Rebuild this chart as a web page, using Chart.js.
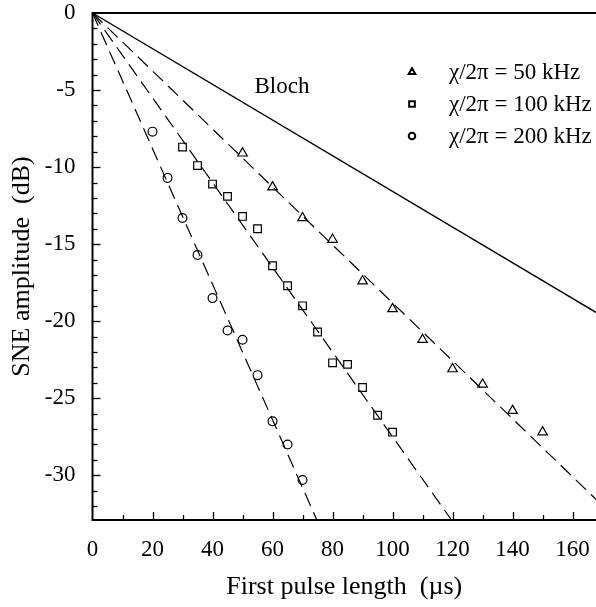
<!DOCTYPE html>
<html>
<head>
<meta charset="utf-8">
<script src="https://cdn.jsdelivr.net/npm/chart.js@4.4.1/dist/chart.umd.min.js"></script>
<style>
  html, body { margin: 0; padding: 0; background: #fff; }
</style>
</head>
<body>
<canvas id="c" width="596" height="607"></canvas>
<script>
// measured points, SNE amplitude (dB) vs first pulse length (us)
const pulse50 = [50, 60, 70, 80, 90, 100, 110, 120, 130, 140, 150];
const sne50 = [-9.1, -11.3, -13.3, -14.7, -17.4, -19.2, -21.2, -23.1, -24.1, -25.8, -27.2];
const pulse100 = [30, 35, 40, 45, 50, 55, 60, 65, 70, 75, 80, 85, 90, 95, 100];
const sne100 = [-8.7, -9.9, -11.1, -11.9, -13.2, -14.0, -16.4, -17.7, -19.0, -20.7, -22.7, -22.8, -24.3, -26.1, -27.2];
const pulse200 = [20, 25, 30, 35, 40, 45, 50, 55, 60, 65, 70];
const sne200 = [-7.7, -10.7, -13.3, -15.7, -18.5, -20.6, -21.2, -23.5, -26.5, -28.0, -30.3];

// Bloch curve and dashed fits (end points)
const blochX = [0, 168];
const blochY = [0, -19.45];
const fit50X = [0, 168];
const fit50Y = [0, -31.6];
const fit100X = [0, 120];
const fit100Y = [0, -33];
const fit200X = [0, 75];
const fit200Y = [0, -33];

const legendLabels = ["\u03c7/2\u03c0 = 50 kHz", "\u03c7/2\u03c0 = 100 kHz", "\u03c7/2\u03c0 = 200 kHz"];
const xRange = [0, 167.8];
const yRange = [-32.9, 0];

const SERIF = "'Liberation Serif', 'Times New Roman', serif";
const pts = (xs, ys) => xs.map((x, i) => ({ x: x, y: ys[i] }));

const lineSet = (xs, ys, dash) => ({
  type: "line",
  data: pts(xs, ys),
  borderColor: "#000",
  borderWidth: dash ? 1.2 : 1.3,
  borderDash: dash ? [14, 7] : [],
  pointRadius: 0,
  fill: false,
  legend: false,
});
const markSet = (label, xs, ys, style, r, lr) => ({
  type: "scatter",
  label: label,
  data: pts(xs, ys),
  pointStyle: style,
  pointRadius: r,
  legendRadius: lr,
  pointBorderColor: "#000",
  pointBackgroundColor: "rgba(0,0,0,0)",
  pointBorderWidth: 1.2,
  legend: true,
});

// inward ticks, frame lines, legend and the Bloch label
const framePlugin = {
  id: "frame",
  afterDatasetsDraw: (chart) => {
    const ctx = chart.ctx;
    const a = chart.chartArea;
    const xs = chart.scales.x;
    const ys = chart.scales.y;
    ctx.save();
    ctx.strokeStyle = "#000";
    ctx.lineWidth = 1.3;
    for (let v = 10; v < xRange[1]; v += 10) {
      const px = Math.round(xs.getPixelForValue(v)) + 0.5;
      const len = v % 20 === 0 ? 8 : 5;
      ctx.beginPath();
      ctx.moveTo(px, a.bottom);
      ctx.lineTo(px, a.bottom - len);
      ctx.stroke();
    }
    for (let v = -1; v > yRange[0]; v--) {
      const py = Math.round(ys.getPixelForValue(v)) + 0.5;
      const len = v % 5 === 0 ? 8 : 5;
      ctx.beginPath();
      ctx.moveTo(a.left, py);
      ctx.lineTo(a.left + len, py);
      ctx.stroke();
    }
    ctx.lineWidth = 2;
    ctx.beginPath();
    ctx.moveTo(a.right, a.top);
    ctx.lineTo(a.left, a.top);
    ctx.lineTo(a.left, a.bottom);
    ctx.lineTo(a.right, a.bottom);
    ctx.stroke();

    // Bloch label
    ctx.fillStyle = "#000";
    ctx.font = "23px " + SERIF;
    ctx.textAlign = "left";
    ctx.textBaseline = "alphabetic";
    ctx.fillText("Bloch", xs.getPixelForValue(54), ys.getPixelForValue(-5.2));

    // legend
    let row = 0;
    chart.data.datasets.forEach((ds) => {
      if (!ds.legend) return;
      const y = a.top + 59 + row * 32;
      ctx.fillStyle = "rgba(0,0,0,0)";
      ctx.strokeStyle = "#000";
      Chart.helpers.drawPoint(ctx, {
        pointStyle: ds.pointStyle,
        radius: ds.legendRadius,
        borderWidth: 1,
        rotation: 0,
      }, a.right - 184, y);
      ctx.fillStyle = "#000";
      ctx.textBaseline = "middle";
      ctx.fillText(ds.label, a.right - 147, y + 1);
      row++;
    });
    ctx.restore();
  },
};

new Chart(document.getElementById("c"), {
  data: {
    datasets: [
      lineSet(blochX, blochY, false),
      lineSet(fit50X, fit50Y, true),
      lineSet(fit100X, fit100Y, true),
      lineSet(fit200X, fit200Y, true),
      markSet(legendLabels[0], pulse50, sne50, "triangle", 5.5, 3.8),
      markSet(legendLabels[1], pulse100, sne100, "rect", 5.4, 4.0),
      markSet(legendLabels[2], pulse200, sne200, "circle", 4.4, 3.3),
    ],
  },
  options: {
    responsive: false,
    animation: false,
    layout: { autoPadding: false, padding: { top: 13, right: 0, left: 0, bottom: 0 } },
    plugins: { legend: { display: false }, tooltip: { enabled: false } },
    scales: {
      x: {
        type: "linear",
        min: xRange[0],
        max: xRange[1],
        grid: { display: false },
        border: { display: false },
        ticks: {
          stepSize: 10,
          includeBounds: false,
          autoSkip: false,
          maxRotation: 0,
          padding: 10,
          color: "#000",
          font: { family: SERIF, size: 23, lineHeight: 1 },
          callback: (v) => (v % 20 === 0 ? v : ""),
        },
        title: {
          display: true,
          text: "First pulse length  (\u00b5s)",
          color: "#000",
          font: { family: SERIF, size: 26 },
          padding: { top: 0, bottom: 4 },
        },
        afterFit: (s) => {
          s.height = 87;
          s.paddingLeft = 0;
          s.paddingRight = 0;
        },
      },
      y: {
        type: "linear",
        min: yRange[0],
        max: yRange[1],
        grid: { display: false },
        border: { display: false },
        ticks: {
          stepSize: 1,
          includeBounds: false,
          autoSkip: false,
          padding: 9,
          color: "#000",
          font: { family: SERIF, size: 23, lineHeight: 1 },
          callback: (v) => (v % 5 === 0 ? v : ""),
        },
        title: {
          display: true,
          text: "SNE amplitude  (dB)",
          color: "#000",
          font: { family: SERIF, size: 26 },
          padding: { top: 7, bottom: 0 },
        },
        afterFit: (s) => {
          s.width = 92.5;
          s.paddingTop = 0;
          s.paddingBottom = 0;
        },
      },
    },
  },
  plugins: [framePlugin],
});
</script>
</body>
</html>
